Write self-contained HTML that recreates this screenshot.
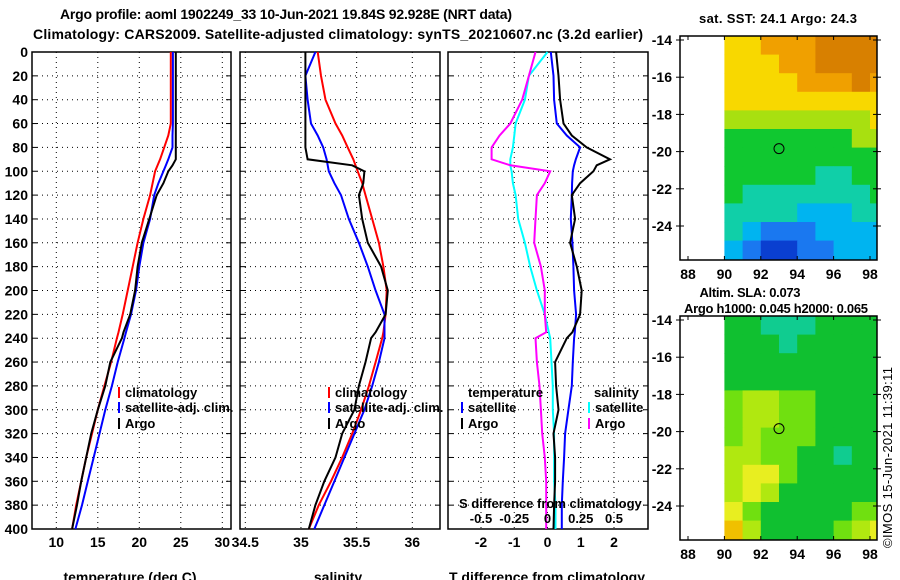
<!DOCTYPE html>
<html><head><meta charset="utf-8"><style>
html,body{margin:0;padding:0;background:#fff;}
svg{display:block;font-family:"Liberation Sans",sans-serif;font-weight:bold;}
</style></head><body>
<svg id="c" width="900" height="580" xmlns="http://www.w3.org/2000/svg">
<text x="286" y="19" text-anchor="middle" font-size="14" textLength="452">Argo profile: aoml 1902249_33 10-Jun-2021 19.84S 92.928E (NRT data)</text>
<text x="338" y="39" text-anchor="middle" font-size="14" textLength="610">Climatology: CARS2009. Satellite-adjusted climatology: synTS_20210607.nc (3.2d earlier)</text>
<text x="778" y="23" text-anchor="middle" font-size="13" textLength="158">sat. SST: 24.1 Argo: 24.3</text>
<text x="750" y="297" text-anchor="middle" font-size="13" textLength="101">Altim. SLA: 0.073</text>
<text x="776" y="313" text-anchor="middle" font-size="13" textLength="184">Argo h1000: 0.045 h2000: 0.065</text>
<text transform="translate(892,548) rotate(-90)" font-size="13" font-weight="normal" textLength="181">©IMOS 15-Jun-2021 11:39:11</text>
</svg>
<script>
// ---- data ----
const depths = [0,20,40,60,70,80,90,95,100,110,120,140,160,180,200,220,235,240,260,280,300,320,340,360,380,400];
const tempClim = [23.8,23.8,23.8,23.8,23.5,23.0,22.5,22.2,21.9,21.6,21.3,20.5,19.8,19.2,18.6,18.0,17.5,17.3,16.6,15.8,15.0,14.3,13.6,13.0,12.4,11.9];
const tempSat  = [24.05,24.05,24.05,24.05,24.0,24.0,23.5,23.2,22.9,22.3,21.8,21.3,20.5,20.0,19.6,19.0,18.4,18.2,17.4,16.7,15.9,15.2,14.5,13.8,13.1,12.3];
const tempArgo = [24.4,24.4,24.4,24.4,24.4,24.4,24.4,24.0,23.5,22.9,22.1,21.2,20.3,19.8,19.5,18.9,18.1,17.9,16.5,15.9,15.0,14.2,13.6,13.0,12.5,11.9];
const salClim = [35.15,35.18,35.22,35.31,35.37,35.42,35.47,35.49,35.51,35.55,35.58,35.64,35.70,35.74,35.77,35.76,35.74,35.73,35.67,35.61,35.54,35.46,35.37,35.27,35.16,35.07];
const salSat  = [35.13,35.04,35.06,35.09,35.15,35.20,35.23,35.24,35.25,35.30,35.36,35.43,35.52,35.60,35.67,35.75,35.75,35.75,35.70,35.64,35.57,35.48,35.39,35.30,35.21,35.12];
const salArgo = [35.04,35.04,35.04,35.04,35.04,35.04,35.06,35.46,35.57,35.56,35.52,35.55,35.60,35.72,35.78,35.76,35.67,35.63,35.58,35.52,35.48,35.37,35.31,35.21,35.13,35.07];
const dTSat  = [0.10,0.18,0.20,0.28,0.58,0.98,0.85,0.80,0.76,0.74,0.73,0.70,0.75,0.78,0.80,0.86,0.82,0.80,0.76,0.73,0.63,0.53,0.50,0.46,0.43,0.43];
const dTArgo = [0.26,0.33,0.38,0.48,0.73,1.18,1.88,1.48,1.38,0.98,0.73,0.83,0.68,0.88,1.03,0.98,0.75,0.58,0.23,0.26,0.33,0.18,0.23,0.23,0.20,0.18];
const dSSat  = [0.00,-0.14,-0.17,-0.24,-0.25,-0.26,-0.28,-0.28,-0.27,-0.26,-0.24,-0.22,-0.17,-0.13,-0.08,-0.02,0.01,0.02,0.03,0.04,0.04,0.05,0.05,0.05,0.06,0.06];
const dSArgo = [-0.09,-0.14,-0.19,-0.28,-0.36,-0.42,-0.42,-0.28,0.02,-0.02,-0.08,-0.09,-0.10,-0.05,-0.02,-0.02,-0.01,-0.09,-0.08,-0.06,-0.05,-0.04,-0.02,-0.01,-0.01,-0.01];
const depthTicks = [0,20,40,60,80,100,120,140,160,180,200,220,240,260,280,300,320,340,360,380,400];
const tempTicks = [10,15,20,25,30];
const salTicks = [34.5,35,35.5,36];
const salTickLabels = ["34.5","35","35.5","36"];
const dTTicks = [-2,-1,0,1,2];
const dSTicks = [-0.5,-0.25,0,0.25,0.5];
const dSTickLabels = ["-0.5","-0.25","0","0.25","0.5"];
const lonTicks = [88,90,92,94,96,98];
const latTicks = [-14,-16,-18,-20,-22,-24];
const sstGrid = [
 [6,6,7,7,7,8,8,8,8],
 [6,6,6,7,7,8,8,8,8],
 [6,6,6,6,7,7,7,8,7],
 [6,6,6,6,6,6,6,6,6],
 [5,5,5,5,5,5,5,5,6],
 [4,4,4,4,4,4,4,5,5],
 [4,4,4,4,4,4,4,4,4],
 [4,4,4,4,4,3,3,4,4],
 [4,3,3,3,3,3,3,3,4],
 [3,3,3,3,2,2,2,3,3],
 [3,2,1,1,1,2,2,2,2],
 [2,1,0,0,1,1,2,2,2]];
const slaGrid = [
 [1,1,0,0,0,1,1,1,1],
 [1,1,1,0,1,1,1,1,1],
 [1,1,1,1,1,1,1,1,1],
 [1,1,1,1,1,1,1,1,1],
 [2,3,3,2,2,1,1,1,1],
 [2,3,3,2,2,1,1,1,1],
 [2,3,2,2,2,1,1,1,1],
 [3,3,2,2,1,1,0,1,1],
 [3,4,4,2,1,1,1,1,1],
 [3,4,3,1,1,1,1,1,1],
 [4,2,1,1,1,1,1,2,2],
 [5,3,1,1,1,1,2,3,4]];
const argoLon = [93.0];
const argoLat = [-19.84];
const sstColors = ["#0a3fd0","#1a78f0","#00b4f0","#10cfa8","#10c830","#a8e010","#f8d800","#f0a000","#d88000"];
const slaColors = ["#10cc90","#10c030","#70e010","#b0e810","#e8ee20","#f0c000"];

const NS="http://www.w3.org/2000/svg";
const svg=document.getElementById('c');
function el(tag,attrs,parent){const e=document.createElementNS(NS,tag);for(const k in attrs)e.setAttribute(k,attrs[k]);(parent||svg).appendChild(e);return e;}
function txt(x,y,s,size,anchor){const t=el('text',{x:x,y:y,'font-size':size,'text-anchor':anchor||'middle'});t.textContent=s;return t;}

const Y0=52,Y1=529;
function yD(d){return Y0+d*(Y1-Y0)/400;}
function lin(d0,p0,d1,p1){return v=>p0+(v-d0)*(p1-p0)/(d1-d0);}

const panels=[
 {name:'temperature',x0:32,x1:231,sx:lin(10,56.3,30,222.3),ticks:tempTicks,labels:tempTicks.map(String),title:'temperature (deg C)',tx:130},
 {name:'salinity',x0:240,x1:440,sx:lin(34.5,245.3,36,412.3),ticks:salTicks,labels:salTickLabels,title:'salinity',tx:338},
 {name:'difference',x0:448,x1:648,sx:lin(0,547.5,1,580.75),ticks:dTTicks,labels:dTTicks.map(String),title:'T difference from climatology',tx:547}
];
const sxS=lin(0,547.5,1,680.5);

panels.forEach((p,i)=>{
  const g=el('g',{});
  
  
  depthTicks.forEach(d=>{
    if(d>0&&d<400){const l=el('line',{x1:p.x0,x2:p.x1,y1:yD(d),y2:yD(d),stroke:'#000','stroke-width':1,'stroke-dasharray':'1,4'},g);
      }
    el('line',{x1:p.x0,x2:p.x0+5,y1:yD(d),y2:yD(d),stroke:'#000'},g);
    el('line',{x1:p.x1-5,x2:p.x1,y1:yD(d),y2:yD(d),stroke:'#000'},g);
  });
  p.ticks.forEach((v,j)=>{
    const x=p.sx(v);
    if(x>p.x0+1&&x<p.x1-1){const l=el('line',{x1:x,x2:x,y1:Y0,y2:Y1,stroke:'#000','stroke-width':1,'stroke-dasharray':'1,4'},g);
      }
    const t=txt(x,547,p.labels[j],14);g.appendChild(t);
    
  });
  el('rect',{x:p.x0,y:Y0,width:p.x1-p.x0,height:Y1-Y0,fill:'none',stroke:'#000','stroke-width':1.5},g);
  const at=txt(p.tx,582,p.title,14);g.appendChild(at);
  
});
depthTicks.forEach(d=>{const t=txt(28,yD(d)+5,String(d),14,'end');
  });

function series(vals,sx,color,name){
  const pts=vals.map((v,i)=>sx(v).toFixed(1)+','+yD(depths[i]).toFixed(1)).join(' ');
  const l=el('polyline',{points:pts,fill:'none',stroke:color,'stroke-width':2});
  
  
}
series(tempClim,panels[0].sx,'#f00','temp-climatology-line');
series(tempSat,panels[0].sx,'#00f','temp-satellite-line');
series(tempArgo,panels[0].sx,'#000','temp-argo-line');
series(salClim,panels[1].sx,'#f00','sal-climatology-line');
series(salSat,panels[1].sx,'#00f','sal-satellite-line');
series(salArgo,panels[1].sx,'#000','sal-argo-line');
series(dSSat,sxS,'#0ff','dsal-satellite-line');
series(dSArgo,sxS,'#f0f','dsal-argo-line');
series(dTSat,panels[2].sx,'#00f','dtemp-satellite-line');
series(dTArgo,panels[2].sx,'#000','dtemp-argo-line');

function legendEntry(x,y,color,label){
  const g=el('g',{});
  
  
  if(color) el('rect',{x:x,y:y-10,width:2,height:11,fill:color},g);
  const t=txt(x+7,y,label,13,'start');g.appendChild(t);
}
[[118,'#f00','climatology',397],[118,'#00f','satellite-adj. clim.',412],[118,'#000','Argo',428],
 [328,'#f00','climatology',397],[328,'#00f','satellite-adj. clim.',412],[328,'#000','Argo',428],
 [461,'#00f','satellite',412],[461,'#000','Argo',428],[588,'#0ff','satellite',412],[588,'#f0f','Argo',428]]
 .forEach(e=>legendEntry(e[0],e[3],e[1],e[2]));
legendEntry(461,397,null,'temperature');
legendEntry(587,397,null,'salinity');
const sdt=txt(459,508,'S difference from climatology',13,'start');

dSTicks.forEach((v,j)=>{const t=txt(sxS(v),523,dSTickLabels[j],13);
  });

function drawMap(top,bottom,latRef,yRef,grid,colors,name){
  const lx=lin(88,688,98,870);
  const ly=lin(-14,yRef,-24,yRef+(latRef));
  const g=el('g',{});
  
  
  const latTop=-14+(yRef-top)/((latRef)/10)*1;
  const x0=723,x1=877;
  grid.forEach((row,r)=>{
    row.forEach((c,k)=>{
      const xa=lx(90+k), xb=Math.min(lx(91+k),x1);
      const ya=ly(latTop-r), yb=Math.min(ly(latTop-r-1),bottom);
      if(xb<=xa||yb<=ya) return;
      const cell=el('rect',{x:xa.toFixed(1),y:ya.toFixed(1),width:(xb-xa+0.5).toFixed(1),height:(yb-ya+0.5).toFixed(1),fill:colors[c]},g);
      
      
    });
  });
  el('rect',{x:680,y:top,width:197,height:bottom-top,fill:'none',stroke:'#000','stroke-width':1.5},g);
  lonTicks.forEach(v=>{const x=lx(v);
    el('line',{x1:x,x2:x,y1:top,y2:top+4,stroke:'#000'},g);
    el('line',{x1:x,x2:x,y1:bottom-4,y2:bottom,stroke:'#000'},g);
    const t=txt(x,bottom+19,String(v),14);g.appendChild(t);
    });
  latTicks.forEach(v=>{const y=ly(v);
    el('line',{x1:676,x2:684,y1:y,y2:y,stroke:'#000'},g);
    el('line',{x1:873,x2:881,y1:y,y2:y,stroke:'#000'},g);
    const t=txt(672,y+5,String(v),14,'end');g.appendChild(t);
    });
  argoLon.forEach((lo,i)=>{const m=el('circle',{cx:lx(lo),cy:ly(argoLat[i]),r:5,fill:'none',stroke:'#000','stroke-width':1},g);
    });
}
drawMap(36,260,186,40,sstGrid,sstColors,'sst-map');
drawMap(316,540,186,320,slaGrid,slaColors,'sla-map');
</script>
</body></html>
